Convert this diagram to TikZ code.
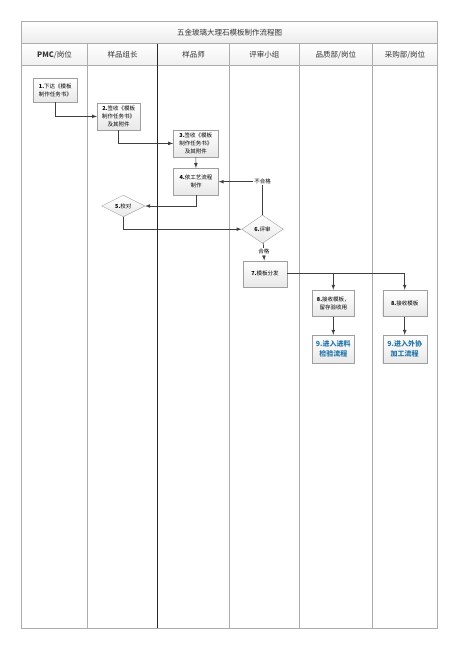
\documentclass[tikz,border=0pt]{standalone}
\usepackage{fontspec}
\setmainfont{Noto Sans CJK SC}
\usetikzlibrary{arrows.meta,shapes.geometric}
\definecolor{endblue}{RGB}{38,118,170}

\begin{document}
\begin{tikzpicture}[x=1pt,y=-1pt,>=latex,
  box/.style={draw=gray!75,top color=white,bottom color=gray!18,inner sep=1pt,
    align=center,font=\fontsize{5.5}{8}\selectfont},
  endbox/.style={box,text=endblue,font=\bfseries\fontsize{7}{10}\selectfont},
  check/.style={box,diamond,aspect=2,inner sep=0pt},
  lane/.style={draw=gray!65,line width=0.6pt},
  flow/.style={draw=black!75,line width=0.7pt},
  head/.style={font=\fontsize{7.5}{9}\selectfont,text=black!80}]
  \useasboundingbox (0,0) rectangle (460,650);

  % title and lanes
  \shade[top color=white,bottom color=gray!15] (21.7,21.3) rectangle (437.7,43.7);
  \shade[top color=white,bottom color=gray!12] (21.7,43.7) rectangle (437.7,65.7);
  \draw[lane] (21.7,21.3) rectangle (437.7,628);
  \draw[lane] (21.7,43.7) -- (437.7,43.7);
  \draw[lane] (21.7,65.7) -- (437.7,65.7);
  \draw[lane] (87.3,43.7) -- (87.3,628);
  \draw[lane,draw=black!85] (157.7,43.7) -- (157.7,628);
  \draw[lane] (229.3,43.7) -- (229.3,628);
  \draw[lane] (299.3,43.7) -- (299.3,628);
  \draw[lane] (372.3,43.7) -- (372.3,628);
  \node[head] (title) at (229.7,32.5) {五金玻璃大理石模板制作流程图};
  \node[head] (pmc) at (54.5,54.7) {\textbf{PMC}/岗位};
  \node[head] (lead) at (122.5,54.7) {样品组长};
  \node[head] (maker) at (193.5,54.7) {样品师};
  \node[head] (panel) at (264.3,54.7) {评审小组};
  \node[head] (qc) at (335.8,54.7) {品质部/岗位};
  \node[head] (buy) at (405,54.7) {采购部/岗位};

  % steps
  \node[box,minimum width=44pt,minimum height=24pt] (s1) at (55.3,90.3) {\textbf{1.}下达《模板\\制作任务书》};
  \node[box,minimum width=43pt,minimum height=27pt] (s2) at (118.7,116.4) {\textbf{2.}签收《模板\\制作任务书》\\及其附件};
  \node[box,minimum width=45pt,minimum height=26.7pt] (s3) at (195.8,143.4) {\textbf{3.}签收《模板\\制作任务书》\\及其附件};
  \node[box,minimum width=45pt,minimum height=27pt] (s4) at (196,181.7) {\textbf{4.}依工艺流程\\制作};
  \node[check,minimum width=43.3pt,minimum height=21.7pt] (s5) at (123.3,206) {\textbf{5.}校对};
  \node[check,minimum width=41.6pt,minimum height=28.3pt] (s6) at (262.5,229.2) {\textbf{6.}评审};
  \node[box,minimum width=43.4pt,minimum height=26pt] (s7) at (265,273.7) {\textbf{7.}模板分发};
  \node[box,minimum width=41.3pt,minimum height=26.7pt] (s8a) at (333.3,303.3) {\textbf{8.}接收模板，\\留存验收用};
  \node[box,minimum width=44pt,minimum height=26.7pt] (s8b) at (404.7,303.3) {\textbf{8.}接收模板};
  \node[endbox,minimum width=41.3pt,minimum height=28.3pt] (s9a) at (333.3,349.2) {9.进入进料\\检验流程};
  \node[endbox,minimum width=44pt,minimum height=28.3pt] (s9b) at (404.7,349.2) {9.进入外协\\加工流程};

  % connectors
  \draw[flow,->] (s1) |- (s2);
  \draw[flow,->] (s2) |- (s3);
  \draw[flow,->] (s3) -- (s4);
  \draw[flow,->] (s4) |- (s5);
  \draw[flow,->] (s5) |- (s6);
  \draw[flow,->] (s6) |- node[pos=0.5,fill=white,inner sep=1pt,font=\fontsize{5.5}{6}\selectfont] {不合格} (s4);
  \draw[flow,->] (s6) -- node[fill=white,inner sep=1pt,font=\fontsize{5.5}{6}\selectfont] {合格} (s7);
  \draw[flow,->] (s7) -| (s8a);
  \draw[flow,->] (s7) -| (s8b);
  \draw[flow,->] (s8a) -- (s9a);
  \draw[flow,->] (s8b) -- (s9b);
\end{tikzpicture}
\end{document}
